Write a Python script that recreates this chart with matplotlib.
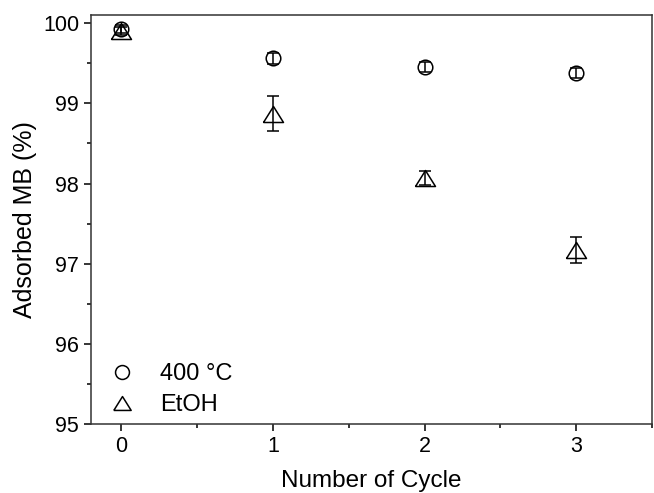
import matplotlib
matplotlib.use('Agg')
import matplotlib.pyplot as plt
from matplotlib.lines import Line2D
from matplotlib.ticker import MultipleLocator

plt.rcParams['font.family'] = ['Liberation Sans', 'DejaVu Sans']

# data
cycles = [0, 1, 2, 3]
temp400 = [99.92, 99.56, 99.45, 99.38]
temp400_err = [0.05, 0.07, 0.06, 0.06]
etoh = [99.90, 98.87, 98.07, 97.17]
etoh_err = [0.05, 0.22, 0.09, 0.16]
labels = ['400 °C', 'EtOH']

# wide, flat triangle like the original
tri = [(-1, -0.8), (1, -0.8), (0, 0.8), (-1, -0.8)]

fig = plt.figure(figsize=(6.54, 4.93), dpi=100)
ax = fig.add_axes([0.139, 0.1393, 0.858, 0.8303])

lw = 1.1
ax.errorbar(cycles, temp400, yerr=temp400_err, fmt='o', ms=10.5, mfc='none',
            mec='black', mew=lw, ecolor='black', elinewidth=lw, capsize=4.3,
            capthick=lw)
ax.errorbar(cycles, etoh, yerr=etoh_err, fmt='none', ecolor='black',
            elinewidth=lw, capsize=4.3, capthick=lw)
ax.plot(cycles, etoh, linestyle='none', marker=tri, ms=14.4, mfc='none',
        mec='black', mew=lw)

ax.set_xlim(-0.2, 3.5)
ax.set_ylim(95, 100.1)
ax.xaxis.set_major_locator(MultipleLocator(1))
ax.xaxis.set_minor_locator(MultipleLocator(0.5))
ax.yaxis.set_major_locator(MultipleLocator(1))
ax.yaxis.set_minor_locator(MultipleLocator(0.5))
ax.tick_params(which='both', direction='out', top=False, right=False,
               labelsize=15.5, width=lw)
ax.tick_params(which='major', length=5)
ax.tick_params(which='minor', length=3)
for sp in ax.spines.values():
    sp.set_linewidth(lw)
    sp.set_color('#333333')

ax.set_xlabel('Number of Cycle', fontsize=17.5, labelpad=9)
ax.set_ylabel('Adsorbed MB (%)', fontsize=18, labelpad=4)

handles = [
    Line2D([], [], linestyle='none', marker='o', ms=10, mfc='none', mec='black', mew=lw),
    Line2D([], [], linestyle='none', marker=tri, ms=12.5, mfc='none', mec='black', mew=lw),
]
ax.legend(handles, labels, loc='lower left', bbox_to_anchor=(0.01, 0.0),
          frameon=False, fontsize=17, handlelength=1.45, handletextpad=0.9,
          labelspacing=0.38, borderaxespad=0.0, borderpad=0.35)

fig.savefig('out.png', dpi=100)
